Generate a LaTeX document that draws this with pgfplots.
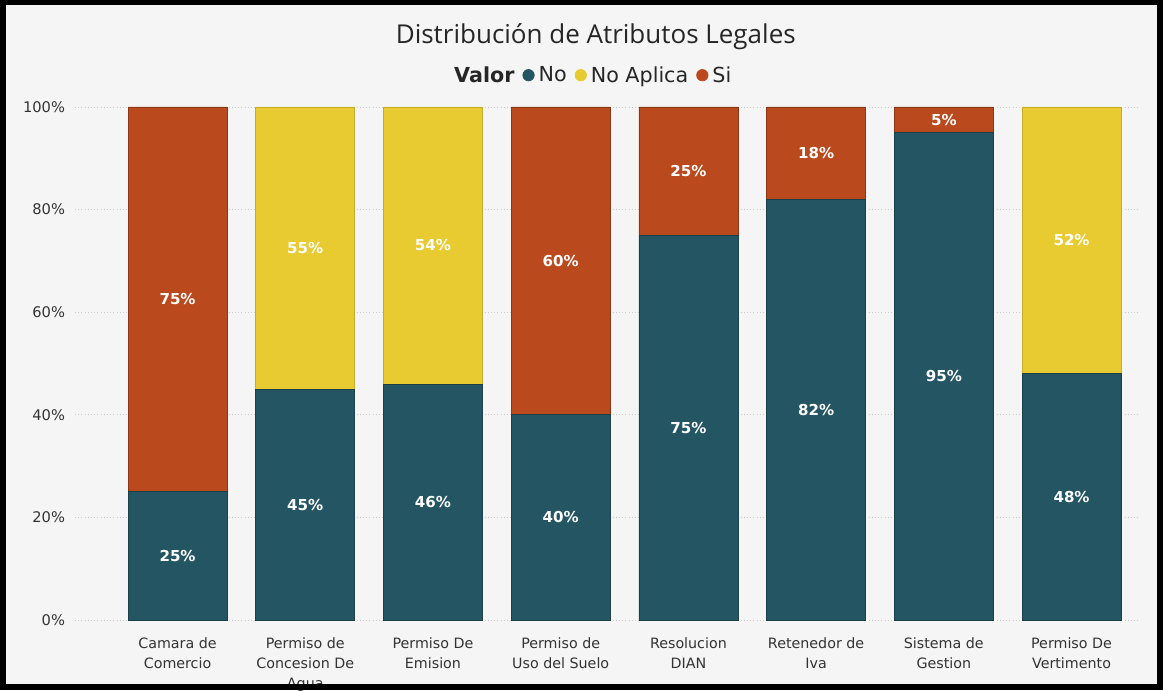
\documentclass[border=0pt]{standalone}
\usepackage{pgfplots}
\pgfplotsset{compat=1.18}
\usepackage{fontspec}
\setmainfont{DejaVu Sans}
\newfontfamily\titlefont{Open Sans}
\definecolor{cNo}{RGB}{36,85,99}
\definecolor{cNA}{RGB}{232,203,48}
\definecolor{cSi}{RGB}{186,74,30}
\definecolor{bg}{RGB}{245,245,245}
\begin{document}
\begin{tikzpicture}
\fill[bg] (-56.25pt,-52.5pt) rectangle (816pt,465pt);
\begin{axis}[
  at={(0,0)}, anchor=south west,
  scale only axis, width=798.75pt, height=384.75pt,
  ybar stacked, bar width=74.25pt,
  xmin=-0.803, xmax=7.536, ymin=0, ymax=100,
  axis line style={draw=none},
  ymajorgrids, grid style={dotted, line width=0.6pt, black!20},
  ytick={0,20,...,100},
  yticklabel={\pgfmathprintnumber{\tick}\%},
  yticklabel style={font=\fontsize{11}{13}\selectfont, text=black!80, anchor=east, xshift=-4pt},
  /pgf/number format/assume math mode=true,
  xtick={0,...,7},
  xticklabels={{Camara de\\Comercio},{Permiso de\\Concesion De\\Agua},{Permiso De\\Emision},{Permiso de\\Uso del Suelo},{Resolucion\\DIAN},{Retenedor de\\Iva},{Sistema de\\Gestion},{Permiso De\\Vertimento}},
  xticklabel style={font=\fontsize{10.7}{15}\selectfont, text=black!80, align=center, anchor=north, yshift=-10pt},
  major tick length=0pt,
  title={\titlefont\fontsize{19.5}{22}\selectfont Distribución de Atributos Legales},
  title style={at={(axis description cs:0.489,1.122)}, anchor=center, text=black!85},
  legend style={at={(axis description cs:0.4855,1.062)}, anchor=center, draw=none, fill=none,
    legend columns=-1, font=\fontsize{15.5}{17}\selectfont, text=black!85,
    /tikz/every even column/.append style={column sep=4pt},
    /tikz/every odd column/.append style={column sep=1pt}},
]
\addlegendimage{empty legend}
\addlegendentry{\textbf{Valor}}
\addplot[fill=cNo, draw=cNo!75!black, line width=0.5pt,
  legend image code/.code={\fill[cNo] (3pt,0pt) circle (4.3pt);}]
  coordinates {(0,25) (1,45) (2,46) (3,40) (4,75) (5,82) (6,95) (7,48)};
\addlegendentry{No}
\addplot[fill=cNA, draw=cNA!85!black, line width=0.5pt,
  legend image code/.code={\fill[cNA] (3pt,0pt) circle (4.3pt);}]
  coordinates {(0,0) (1,55) (2,54) (3,0) (4,0) (5,0) (6,0) (7,52)};
\addlegendentry{No Aplica}
\addplot[fill=cSi, draw=cSi!75!black, line width=0.5pt,
  legend image code/.code={\fill[cSi] (3pt,0pt) circle (4.3pt);}]
  coordinates {(0,75) (1,0) (2,0) (3,60) (4,25) (5,18) (6,5) (7,0)};
\addlegendentry{Si}
\end{axis}
\begin{axis}[
  at={(0,0)}, anchor=south west,
  scale only axis, width=798.75pt, height=384.75pt,
  xmin=-0.803, xmax=7.536, ymin=0, ymax=100,
  axis lines=none, ticks=none,
  /pgf/number format/assume math mode=true,
]
\addplot[only marks, mark=none, draw=none,
  point meta=explicit,
  nodes near coords={\pgfmathprintnumber[fixed,precision=0,assume math mode=true]{\pgfplotspointmeta}\%},
  nodes near coords align={center},
  every node near coord/.append style={anchor=center, text=white, font=\bfseries\fontsize{11.3}{13}\selectfont}]
  coordinates {
  (0,12.5)[25] (0,62.5)[75]
  (1,22.5)[45] (1,72.5)[55]
  (2,23)[46] (2,73)[54]
  (3,20)[40] (3,70)[60]
  (4,37.5)[75] (4,87.5)[25]
  (5,41)[82] (5,91)[18]
  (6,47.5)[95] (6,97.5)[5]
  (7,24)[48] (7,74)[52]
  };
\end{axis}
\draw[black, line width=4.5pt] (-54pt,-50.25pt) rectangle (813.75pt,463.5pt);
\pgfresetboundingbox
\path (-56.25pt,-52.5pt) rectangle (816pt,465pt);
\end{tikzpicture}
\end{document}
